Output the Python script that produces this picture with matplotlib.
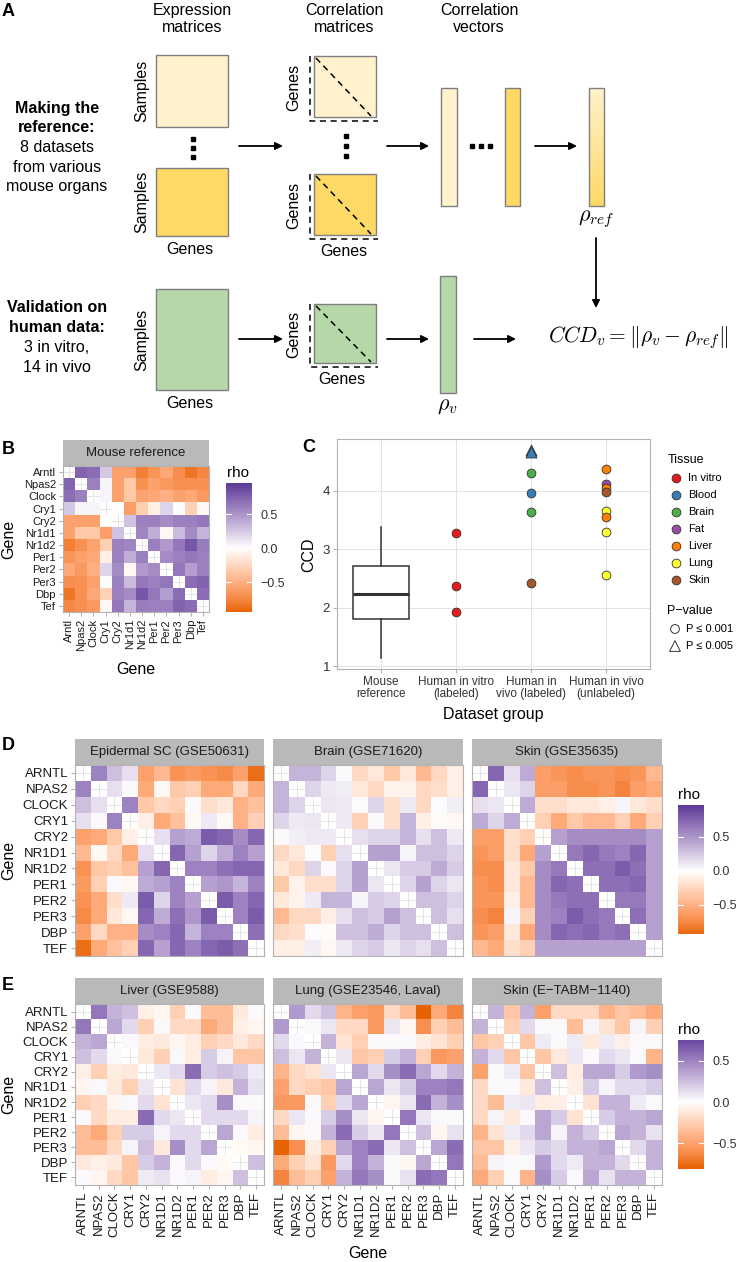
import numpy as np
import matplotlib
matplotlib.use('Agg')
import matplotlib.pyplot as plt
from matplotlib.colors import LinearSegmentedColormap, Normalize
from matplotlib.patches import Rectangle

plt.rcParams['font.family'] = ['Liberation Sans', 'DejaVu Sans']
plt.rcParams['mathtext.fontset'] = 'cm'

# ---------------- data ----------------
genes_mouse = ['Arntl', 'Npas2', 'Clock', 'Cry1', 'Cry2', 'Nr1d1', 'Nr1d2',
               'Per1', 'Per2', 'Per3', 'Dbp', 'Tef']
genes_human = [g.upper() for g in genes_mouse]

# upper triangles of the correlation matrices (row i, columns i+1..11)
mouse_upper = [
    [0.75, 0.70, 0.25, -0.60, -0.60, -0.80, -0.68, -0.55, -0.72, -0.85, -0.75],
    [0.60, 0.05, -0.60, -0.35, -0.70, -0.60, -0.65, -0.70, -0.70, -0.70],
    [0.05, -0.60, -0.35, -0.58, -0.55, -0.50, -0.60, -0.55, -0.65],
    [0.00, -0.62, -0.30, -0.10, 0.20, 0.02, -0.28, -0.05],
    [0.28, 0.60, 0.60, 0.55, 0.60, 0.60, 0.65],
    [0.58, 0.38, -0.05, 0.32, 0.55, 0.35],
    [0.60, 0.48, 0.65, 0.82, 0.62],
    [0.55, 0.60, 0.65, 0.60],
    [0.65, 0.45, 0.60],
    [0.70, 0.75],
    [0.70],
]
epi_upper = [
    [0.60, 0.30, 0.15, -0.60, -0.45, -0.70, -0.65, -0.70, -0.75, -0.60, -0.90],
    [0.15, 0.03, -0.55, -0.05, -0.35, -0.30, -0.55, -0.55, -0.25, -0.55],
    [0.60, -0.35, -0.25, -0.30, 0.03, -0.20, -0.15, -0.50, -0.40],
    [-0.10, -0.55, -0.40, -0.05, 0.10, -0.05, -0.50, -0.30],
    [0.15, 0.45, 0.40, 0.80, 0.75, 0.55, 0.75],
    [0.75, 0.45, 0.20, 0.40, 0.60, 0.45],
    [0.60, 0.60, 0.70, 0.75, 0.75],
    [0.45, 0.50, 0.35, 0.60],
    [0.80, 0.60, 0.75],
    [0.60, 0.80],
    [0.70],
]
brain_upper = [
    [0.35, 0.35, 0.20, 0.03, -0.25, -0.15, -0.35, -0.15, -0.45, -0.25, -0.10],
    [0.20, 0.10, 0.08, -0.15, -0.25, -0.08, -0.08, -0.25, -0.20, -0.10],
    [0.12, 0.10, 0.02, 0.20, -0.20, 0.10, -0.25, 0.02, 0.08],
    [0.10, -0.30, 0.03, -0.20, 0.35, -0.10, -0.03, -0.05],
    [0.15, 0.20, 0.20, 0.35, 0.15, 0.30, 0.10],
    [0.45, 0.45, 0.05, 0.30, 0.30, 0.20],
    [0.12, 0.25, 0.25, 0.40, 0.25],
    [0.20, 0.45, 0.20, 0.12],
    [0.30, 0.30, 0.20],
    [0.30, 0.15],
    [0.30],
]
skin1_upper = [
    [0.75, 0.15, 0.40, -0.62, -0.68, -0.72, -0.68, -0.68, -0.72, -0.68, -0.45],
    [0.12, 0.20, -0.62, -0.62, -0.72, -0.72, -0.68, -0.78, -0.62, -0.55],
    [0.40, -0.20, -0.20, -0.15, -0.15, -0.10, 0.05, -0.15, -0.20],
    [-0.30, -0.55, -0.35, -0.45, -0.45, -0.30, -0.55, -0.30],
    [0.45, 0.55, 0.55, 0.55, 0.55, 0.55, 0.45],
    [0.65, 0.75, 0.65, 0.60, 0.75, 0.45],
    [0.70, 0.70, 0.80, 0.70, 0.45],
    [0.70, 0.70, 0.75, 0.45],
    [0.65, 0.65, 0.45],
    [0.70, 0.45],
    [0.45],
]
liver_upper = [
    [0.55, 0.30, 0.25, -0.08, -0.05, -0.25, 0.02, -0.35, -0.35, -0.12, 0.02],
    [0.35, 0.15, -0.25, 0.03, -0.20, -0.20, -0.45, -0.35, -0.08, -0.05],
    [0.03, -0.10, -0.12, -0.05, -0.10, -0.25, -0.20, -0.12, -0.20],
    [-0.12, -0.25, 0.03, -0.10, 0.20, 0.05, -0.30, -0.30],
    [0.10, 0.15, 0.60, 0.20, 0.25, 0.20, 0.08],
    [-0.15, 0.15, 0.05, -0.12, 0.30, 0.12],
    [0.10, 0.15, 0.45, 0.02, 0.02],
    [0.15, 0.15, 0.15, 0.05],
    [0.35, 0.02, -0.10],
    [-0.03, -0.05],
    [0.25],
]
lung_upper = [
    [0.40, 0.15, 0.25, -0.40, -0.50, -0.55, -0.20, -0.35, -0.80, -0.45, -0.65],
    [0.03, 0.10, -0.20, -0.20, -0.55, 0.10, -0.05, -0.60, -0.25, -0.35],
    [0.30, -0.15, -0.25, 0.02, 0.02, 0.02, -0.10, -0.15, -0.25],
    [0.10, -0.30, -0.25, 0.20, 0.30, -0.25, -0.55, -0.50],
    [0.35, 0.15, 0.45, 0.60, 0.35, 0.15, 0.30],
    [0.35, 0.10, 0.20, 0.50, 0.50, 0.55],
    [-0.05, 0.10, 0.60, 0.30, 0.45],
    [0.55, 0.10, 0.03, 0.03],
    [0.25, -0.05, 0.12],
    [0.35, 0.60],
    [0.55],
]
skin2_upper = [
    [0.30, -0.30, 0.30, -0.50, -0.20, -0.20, -0.20, -0.40, -0.30, -0.35, -0.45],
    [-0.25, 0.15, 0.03, 0.03, -0.35, 0.05, -0.15, -0.30, 0.05, -0.25],
    [-0.30, 0.08, 0.02, 0.08, -0.12, 0.08, -0.08, 0.02, 0.03],
    [-0.30, -0.12, 0.10, 0.02, 0.15, 0.10, 0.03, -0.40],
    [0.25, -0.10, 0.35, 0.35, 0.20, 0.40, 0.45],
    [-0.08, 0.20, 0.05, 0.15, 0.15, 0.20],
    [-0.15, 0.30, 0.30, 0.08, 0.03],
    [0.20, 0.30, 0.30, 0.35],
    [0.35, 0.30, 0.12],
    [0.15, 0.30],
    [0.30],
]
d_titles = ['Epidermal SC (GSE50631)', 'Brain (GSE71620)', 'Skin (GSE35635)']
e_titles = ['Liver (GSE9588)', 'Lung (GSE23546, Laval)', 'Skin (E\u2212TABM\u22121140)']

# colour bar ranges (lowest, highest rho)
b_range = [-0.94, 0.96]
d_range = [-0.93, 0.97]
e_range = [-0.81, 0.75]

# panel C
groups = ['Mouse\nreference', 'Human in vitro\n(labeled)', 'Human in\nvivo (labeled)',
          'Human in vivo\n(unlabeled)']
mouse_box = dict(whislo=1.13, q1=1.80, med=2.24, q3=2.71, whishi=3.38)
tissues = ['In vitro', 'Blood', 'Brain', 'Fat', 'Liver', 'Lung', 'Skin']
tissue_colors = ['#E41A1C', '#377EB8', '#4DAF4A', '#984EA3', '#FF7F00', '#FFFF33', '#A65628']
pt_group = [2, 2, 2, 3, 3, 3, 3, 3, 3, 4, 4, 4, 4, 4, 4, 4, 4]
pt_ccd = [3.28, 2.38, 1.92, 4.71, 4.67, 4.31, 3.97, 3.64, 2.43,
          4.38, 4.12, 4.05, 3.99, 3.66, 3.56, 3.29, 2.56]
pt_tissue = ['In vitro', 'In vitro', 'In vitro', 'Blood', 'Blood', 'Brain', 'Blood', 'Brain', 'Skin',
             'Liver', 'Fat', 'Liver', 'Skin', 'Lung', 'Liver', 'Lung', 'Lung']
pt_p005 = [False, False, False, True, True, False, False, False, False,
           False, False, False, False, False, False, False, False]

# ---------------- helpers ----------------
W, H = 737, 1262
fig = plt.figure(figsize=(W / 100, H / 100), dpi=100)

rho_cmap = LinearSegmentedColormap.from_list('rho', [
    (0.0, '#E66101'), (0.125, '#F88E4E'), (0.25, '#FFB388'), (0.375, '#FFD9C2'),
    (0.5, '#FFFFFF'), (0.625, '#D7CBE5'), (0.75, '#B099CC'), (0.875, '#886AB3'),
    (1.0, '#5E3C99')])
STRIP = '#B9B9B9'
BORDER = '#B3B3B3'
TXT = '#333333'


def px_rect(x0, y0, x1, y1):
    return [x0 / W, 1 - y1 / H, (x1 - x0) / W, (y1 - y0) / H]


def sym(upper):
    m = np.full((12, 12), np.nan)
    for i, row in enumerate(upper):
        for k, v in enumerate(row):
            m[i, i + 1 + k] = v
            m[i + 1 + k, i] = v
    return m


def heat_panel(x0, y0, x1, y1, upper, norm, title, ylabels=None, xlabels=None,
               fs=9, strip_h=26):
    sx = fig.add_axes(px_rect(x0, y0 - strip_h, x1, y0))
    sx.set_facecolor(STRIP)
    sx.set_xticks([])
    sx.set_yticks([])
    for s in sx.spines.values():
        s.set_visible(False)
    sx.text(0.5, 0.5, title, ha='center', va='center', fontsize=9.5,
            color='#1A1A1A', transform=sx.transAxes)

    ax = fig.add_axes(px_rect(x0, y0, x1, y1))
    edges = np.arange(13) - 0.5
    ax.pcolormesh(edges, edges, np.ma.masked_invalid(sym(upper)), cmap=rho_cmap,
                  norm=norm, edgecolors='none', antialiased=False)
    ax.set_xlim(-0.5, 11.5)
    ax.set_ylim(11.5, -0.5)
    ax.set_axisbelow(True)
    ax.grid(True, color='#E0E0E0', lw=0.6)
    ax.set_xticks(range(12))
    ax.set_yticks(range(12))
    ax.set_yticklabels(ylabels if ylabels else [])
    ax.set_xticklabels(xlabels if xlabels else [], rotation=90)
    ax.tick_params(axis='y', length=3 if ylabels else 0, color=BORDER,
                   labelsize=fs, labelcolor='#1A1A1A', pad=2)
    ax.tick_params(axis='x', length=3 if xlabels else 0, color=BORDER,
                   labelsize=fs, labelcolor='#1A1A1A', pad=2)
    for s in ax.spines.values():
        s.set_color(BORDER)
        s.set_linewidth(0.8)
    return ax


def colour_bar(x0, y0, x1, y1, rng, norm):
    ax = fig.add_axes(px_rect(x0, y0, x1, y1))
    lo, hi = rng
    ax.imshow(np.linspace(hi, lo, 256)[:, None], aspect='auto', cmap=rho_cmap,
              norm=norm, extent=[0, 1, lo, hi])
    ax.set_xlim(0, 1)
    ax.set_ylim(lo, hi)
    for t in [-0.5, 0.0, 0.5]:
        ax.plot([0, 0.2], [t, t], color='white', lw=0.8)
        ax.plot([0.8, 1], [t, t], color='white', lw=0.8)
    ax.set_xticks([])
    ax.yaxis.tick_right()
    ax.set_yticks([-0.5, 0.0, 0.5])
    ax.set_yticklabels(['\u22120.5', '0.0', '0.5'])
    ax.tick_params(axis='y', length=0, labelsize=9, labelcolor=TXT, pad=6)
    for s in ax.spines.values():
        s.set_visible(False)


# full-figure canvas in pixel coordinates
canvas = fig.add_axes([0, 0, 1, 1])
canvas.set_xlim(0, W)
canvas.set_ylim(H, 0)
canvas.axis('off')

# ---------------- panel A (schematic) ----------------
cream, gold, green = '#FFF2CC', '#FFD966', '#B6D7A8'
edge = '#7F7F7F'


def box(x0, y0, x1, y1, fc):
    canvas.add_patch(Rectangle((x0, y0), x1 - x0, y1 - y0, facecolor=fc,
                               edgecolor=edge, lw=1))


def arrow(x0, y0, x1, y1):
    canvas.annotate('', xy=(x1, y1), xytext=(x0, y0),
                    arrowprops=dict(arrowstyle='-|>', color='black', lw=1.3,
                                    mutation_scale=11, shrinkA=0, shrinkB=0))


def corr_box(y0, y1, fc):
    box(314, y0, 376, y1, fc)
    canvas.plot([310, 310, 378], [y0, y1 + 4, y1 + 4], color='black', lw=1.1,
                ls=(0, (4, 3)))
    canvas.plot([316, 371], [y0 + 2, y1 - 1], color='black', lw=1.1, ls=(0, (4, 3)))


fsA = 11.5
canvas.text(2, 12, 'A', fontsize=13, fontweight='bold', va='center')
canvas.text(192, 19, 'Expression\nmatrices', ha='center', va='center', fontsize=fsA,
            linespacing=1.1)
canvas.text(344, 19, 'Correlation\nmatrices', ha='center', va='center', fontsize=fsA,
            linespacing=1.1)
canvas.text(479, 19, 'Correlation\nvectors', ha='center', va='center', fontsize=fsA,
            linespacing=1.1)

for txt, y, w in [('Making the', 108, 'bold'), ('reference:', 128, 'bold'),
                  ('8 datasets', 148, 'normal'), ('from various', 168, 'normal'),
                  ('mouse organs', 187, 'normal'), ('Validation on', 308, 'bold'),
                  ('human data:', 328, 'bold'), ('3 in vitro,', 347, 'normal'),
                  ('14 in vivo', 367, 'normal')]:
    canvas.text(57, y, txt, ha='center', va='center', fontsize=fsA, fontweight=w)

# expression matrices
box(156, 55, 228, 127, cream)
box(156, 168, 228, 236, gold)
box(156, 289, 228, 390, green)
canvas.plot([193, 193, 193], [139, 148, 157], 's', ms=2.6, color='black')
for yc in [91, 202, 340]:
    canvas.text(142, yc, 'Samples', rotation=90, ha='center', va='center', fontsize=fsA)
canvas.text(190, 250, 'Genes', ha='center', va='center', fontsize=fsA)
canvas.text(190, 403, 'Genes', ha='center', va='center', fontsize=fsA)

# correlation matrices
corr_box(56, 117, cream)
corr_box(174, 235, gold)
corr_box(304, 363, green)
canvas.plot([346, 346, 346], [136, 146, 156], 's', ms=2.6, color='black')
for yc in [87, 205, 334]:
    canvas.text(294, yc, 'Genes', rotation=90, ha='center', va='center', fontsize=fsA)
canvas.text(344, 251, 'Genes', ha='center', va='center', fontsize=fsA)
canvas.text(342, 380, 'Genes', ha='center', va='center', fontsize=fsA)

# correlation vectors
box(441, 88, 457, 206, cream)
box(505, 88, 520, 206, gold)
canvas.plot([472, 481, 490], [146, 146, 146], 's', ms=2.6, color='black')
grad_cmap = LinearSegmentedColormap.from_list('ref', [cream, gold])
canvas.imshow(np.linspace(0, 1, 100)[:, None], cmap=grad_cmap, aspect='auto',
              extent=[589, 604, 206, 88], zorder=1)
canvas.add_patch(Rectangle((589, 88), 15, 118, facecolor='none', edgecolor=edge,
                           lw=1, zorder=2))
box(440, 276, 456, 393, green)
canvas.set_xlim(0, W)
canvas.set_ylim(H, 0)

canvas.text(596, 219, r'$\rho_{ref}$', ha='center', va='center', fontsize=16)
canvas.text(447, 405, r'$\rho_{v}$', ha='center', va='center', fontsize=16)
canvas.text(548, 338, r'$CCD_v = \Vert\rho_v - \rho_{ref}\Vert$', ha='left',
            va='center', fontsize=15.5)

arrow(239, 146, 283, 146)
arrow(387, 146, 429, 146)
arrow(535, 146, 577, 146)
arrow(239, 339, 283, 339)
arrow(387, 339, 429, 339)
arrow(474, 339, 516, 339)
arrow(596, 238, 596, 308)

# ---------------- panel B ----------------
canvas.text(2, 449, 'B', fontsize=13, fontweight='bold', va='center')
norm_b = Normalize(-max(map(abs, b_range)), max(map(abs, b_range)))
heat_panel(63, 466, 209, 612, mouse_upper, norm_b, 'Mouse reference',
           ylabels=genes_mouse, xlabels=genes_mouse, fs=8)
canvas.text(136, 669, 'Gene', ha='center', va='center', fontsize=11.5)
canvas.text(9, 539, 'Gene', ha='center', va='center', fontsize=11.5, rotation=90)
colour_bar(226, 483, 252, 612, b_range, norm_b)
canvas.text(227, 473, 'rho', ha='left', va='center', fontsize=11)

# ---------------- panel C ----------------
canvas.text(302, 448, 'C', fontsize=13, fontweight='bold', va='center')
axc = fig.add_axes(px_rect(337, 439, 650, 669))
axc.set_axisbelow(True)
axc.grid(True, color='#E3E3E3', lw=0.7)
axc.bxp([mouse_box], positions=[1], widths=0.75, showfliers=False, showcaps=False,
        patch_artist=True,
        boxprops=dict(facecolor='white', edgecolor='#333333', lw=1.1),
        medianprops=dict(color='#333333', lw=2.2),
        whiskerprops=dict(color='#333333', lw=1.1))
for g, v, t, tri in zip(pt_group, pt_ccd, pt_tissue, pt_p005):
    axc.scatter(g, v, s=62 if tri else 40, marker='^' if tri else 'o',
                c=tissue_colors[tissues.index(t)], edgecolors='#333333',
                linewidths=0.6, zorder=3)
axc.set_xlim(0.413, 4.587)
axc.set_ylim(0.95, 4.89)
axc.set_xticks([1, 2, 3, 4])
axc.set_xticklabels(groups, fontsize=8.5, color=TXT, linespacing=1.0)
axc.set_yticks([1, 2, 3, 4])
axc.tick_params(axis='y', labelsize=9.5, labelcolor=TXT, color=BORDER, length=3, pad=2)
axc.tick_params(axis='x', color=BORDER, length=3, pad=2)
for s in axc.spines.values():
    s.set_color(BORDER)
    s.set_linewidth(0.8)
canvas.text(309, 555, 'CCD', ha='center', va='center', fontsize=11.5, rotation=90)
canvas.text(493, 714, 'Dataset group', ha='center', va='center', fontsize=11.5)

# legends of panel C
canvas.text(668, 460, 'Tissue', ha='left', va='center', fontsize=9)
for i, (t, col) in enumerate(zip(tissues, tissue_colors)):
    y = 478 + 17 * i
    canvas.scatter(676, y, s=40, c=col, edgecolors='#333333', linewidths=0.6)
    canvas.text(688, y, t, ha='left', va='center', fontsize=8)
canvas.text(667, 611, 'P\u2212value', ha='left', va='center', fontsize=9)
canvas.scatter(675, 629, s=40, marker='o', facecolors='none', edgecolors='#333333',
               linewidths=0.7)
canvas.text(686, 629, 'P \u2264 0.001', ha='left', va='center', fontsize=8)
canvas.scatter(675, 646, s=60, marker='^', facecolors='none', edgecolors='#333333',
               linewidths=0.7)
canvas.text(686, 646, 'P \u2264 0.005', ha='left', va='center', fontsize=8)
canvas.set_xlim(0, W)
canvas.set_ylim(H, 0)

# ---------------- panel D ----------------
canvas.text(2, 746, 'D', fontsize=13, fontweight='bold', va='center')
norm_d = Normalize(-max(map(abs, d_range)), max(map(abs, d_range)))
d_x = [(75, 264), (273, 463), (472, 662)]
for k, (up, title) in enumerate(zip([epi_upper, brain_upper, skin1_upper], d_titles)):
    heat_panel(d_x[k][0], 765, d_x[k][1], 956, up, norm_d, title,
               ylabels=genes_human if k == 0 else None, fs=9.5)
canvas.text(9, 860, 'Gene', ha='center', va='center', fontsize=11.5, rotation=90)
colour_bar(678, 805, 704, 934, d_range, norm_d)
canvas.text(678, 795, 'rho', ha='left', va='center', fontsize=11)

# ---------------- panel E ----------------
canvas.text(2, 985, 'E', fontsize=13, fontweight='bold', va='center')
norm_e = Normalize(-max(map(abs, e_range)), max(map(abs, e_range)))
for k, (up, title) in enumerate(zip([liver_upper, lung_upper, skin2_upper], e_titles)):
    heat_panel(d_x[k][0], 1004, d_x[k][1], 1185, up, norm_e, title,
               ylabels=genes_human if k == 0 else None, xlabels=genes_human, fs=9.5)
canvas.text(9, 1094, 'Gene', ha='center', va='center', fontsize=11.5, rotation=90)
canvas.text(368, 1254, 'Gene', ha='center', va='center', fontsize=11.5)
colour_bar(678, 1040, 704, 1169, e_range, norm_e)
canvas.text(678, 1030, 'rho', ha='left', va='center', fontsize=11)

fig.savefig('out.png', dpi=100)
